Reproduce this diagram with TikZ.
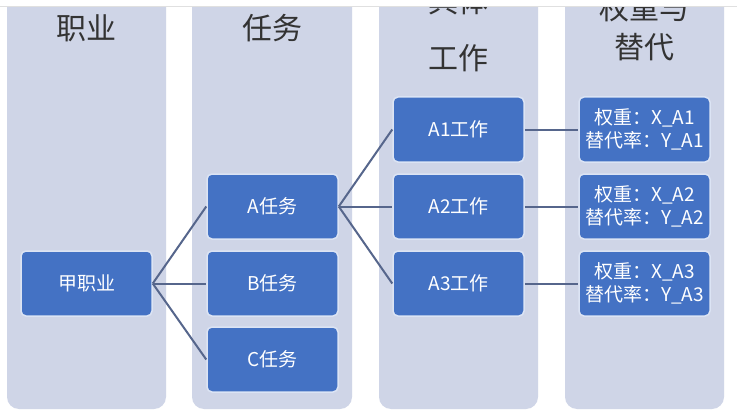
\documentclass[tikz,border=0pt]{standalone}
\usepackage{fontspec}
\setmainfont{Noto Sans CJK SC}
\definecolor{colbg}{HTML}{CFD5E7}
\definecolor{boxblue}{HTML}{4472C4}
\definecolor{boxedge}{HTML}{DCE4F4}
\definecolor{linec}{HTML}{56668C}
\definecolor{headc}{HTML}{333333}
\tikzset{
  colbox/.style={fill=colbg, draw=none, rounded corners=12pt},
  headtxt/.style={text=headc, font=\fontsize{30}{34}\selectfont, inner sep=0pt},
  bluebox/.style={fill=boxblue, draw=boxedge, line width=1.5pt, rounded corners=5pt,
    minimum width=131pt, minimum height=65pt, inner sep=0pt, text=white,
    font=\fontsize{19}{23}\selectfont, align=center},
  conn/.style={draw=linec, line width=2pt}
}
\begin{document}
\begin{tikzpicture}[x=1pt,y=-1pt]
\useasboundingbox (0,0) rectangle (737,412);
\fill[white] (0,0) rectangle (737,412);
\begin{scope}
\clip (0,6.5) rectangle (737,412);
% columns
\path[colbox] (7,-20) rectangle (166,409);
\path[colbox] (192,-20) rectangle (352,409);
\path[colbox] (379,-20) rectangle (538,409);
\path[colbox] (565,-20) rectangle (724,409);
% headers
\node[headtxt] (h1) at (86.5,28) {职业};
\node[headtxt] (h2) at (272,28) {任务};
\node[headtxt] (h3a) at (458.5,1) {具体};
\node[headtxt] (h3b) at (458.5,58) {工作};
\node[headtxt] (h4a) at (644.5,8) {权重与};
\node[headtxt] (h4b) at (644.5,47.5) {替代};
\end{scope}
\draw[draw=black!12, line width=0.8pt] (0,6.2) -- (737,6.2);
% boxes
\node[bluebox] (job) at (86.5,283.5) {甲职业};
\node[bluebox] (ta) at (272.5,206.5) {A任务};
\node[bluebox] (tb) at (272.5,283.5) {B任务};
\node[bluebox] (tc) at (272.5,359.5) {C任务};
\node[bluebox] (w1) at (458.5,129.5) {A1工作};
\node[bluebox] (w2) at (458.5,206.5) {A2工作};
\node[bluebox] (w3) at (458.5,283.5) {A3工作};
\node[bluebox] (r1) at (644.5,129.5) {权重：X\_A1\\替代率：Y\_A1};
\node[bluebox] (r2) at (644.5,206.5) {权重：X\_A2\\替代率：Y\_A2};
\node[bluebox] (r3) at (644.5,283.5) {权重：X\_A3\\替代率：Y\_A3};
% connectors
\draw[conn] (job.east) -- (ta.west);
\draw[conn] (job.east) -- (tb.west);
\draw[conn] (job.east) -- (tc.west);
\draw[conn] (ta.east) -- (w1.west);
\draw[conn] (ta.east) -- (w2.west);
\draw[conn] (ta.east) -- (w3.west);
\draw[conn] (w1.east) -- (r1.west);
\draw[conn] (w2.east) -- (r2.west);
\draw[conn] (w3.east) -- (r3.west);
\end{tikzpicture}
\end{document}
